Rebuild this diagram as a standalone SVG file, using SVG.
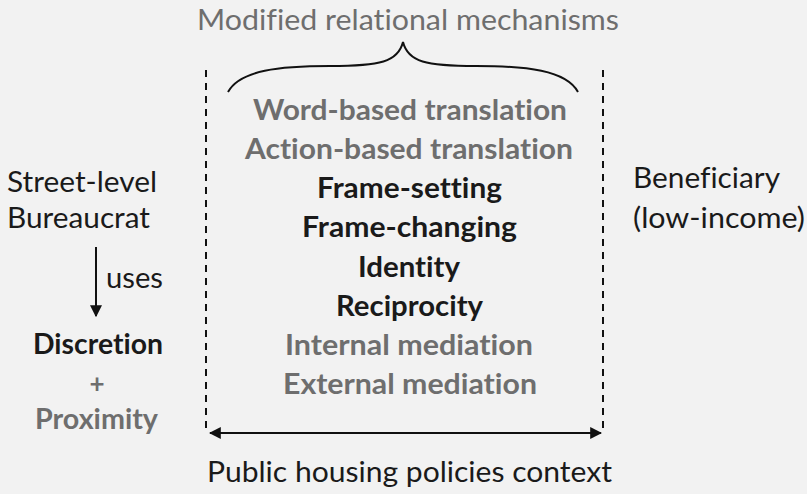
<svg xmlns="http://www.w3.org/2000/svg" width="807" height="494" viewBox="0 0 807 494">
  <style>
    text { font-family: Lato, "Open Sans", sans-serif; font-size: 29px; font-variant-ligatures: none; }
    .reg { fill: #1a1a1a; }
    .grey { fill: #6e6e6e; }
    .b { font-weight: bold; }
    .mid { text-anchor: middle; }
    .dash { stroke: #111; stroke-width: 2; stroke-dasharray: 7 6; fill: none; }
    .line { stroke: #111; stroke-width: 2; fill: none; }
  </style>
  <defs>
    <marker id="arrowS" viewBox="0 0 10 10" refX="9" refY="5" markerWidth="12" markerHeight="12" orient="auto-start-reverse" markerUnits="userSpaceOnUse">
      <path d="M0,0 L10,5 L0,10 z" fill="#111"/>
    </marker>
  </defs>
  <rect width="807" height="494" fill="#f2f2f2"/>

  <g id="title">
    <text class="grey mid" x="408" y="30" textLength="422" lengthAdjust="spacingAndGlyphs">Modified relational mechanisms</text>
  </g>

  <g id="connectors">
    <!-- dashed frame sides -->
    <path class="dash" d="M206,70 V432"/>
    <path class="dash" d="M603,70 V432"/>
    <!-- curly brace over the mechanisms -->
    <path class="line" d="M228,92 C240,70 280,66 330,66 C380,66 398,62 403,42 C408,62 426,66 476,66 C526,66 566,70 578,92"/>
    <!-- context span -->
    <path class="line" d="M210,433 H601" marker-start="url(#arrowS)" marker-end="url(#arrowS)"/>
    <!-- uses arrow -->
    <path class="line" d="M96,247 V316" marker-end="url(#arrowS)"/>
  </g>

  <g id="mechanisms">
    <text class="grey b mid" x="410" y="120" textLength="314" lengthAdjust="spacingAndGlyphs">Word-based translation</text>
    <text class="grey b mid" x="409" y="159" textLength="328" lengthAdjust="spacingAndGlyphs">Action-based translation</text>
    <text class="reg b mid" x="409.5" y="198" textLength="185" lengthAdjust="spacingAndGlyphs">Frame-setting</text>
    <text class="reg b mid" x="409.5" y="237" textLength="215" lengthAdjust="spacingAndGlyphs">Frame-changing</text>
    <text class="reg b mid" x="409" y="277" textLength="102" lengthAdjust="spacingAndGlyphs">Identity</text>
    <text class="reg b mid" x="409.5" y="316" textLength="147" lengthAdjust="spacingAndGlyphs">Reciprocity</text>
    <text class="grey b mid" x="409" y="355" textLength="248" lengthAdjust="spacingAndGlyphs">Internal mediation</text>
    <text class="grey b mid" x="410" y="394" textLength="254" lengthAdjust="spacingAndGlyphs">External mediation</text>
  </g>

  <g id="bureaucrat">
    <text class="reg" x="7" y="192" textLength="150" lengthAdjust="spacingAndGlyphs">Street-level</text>
    <text class="reg" x="7" y="228" textLength="143" lengthAdjust="spacingAndGlyphs">Bureaucrat</text>
  </g>
  <g id="uses-label">
    <text class="reg" x="106" y="288" textLength="57" lengthAdjust="spacingAndGlyphs">uses</text>
  </g>
  <g id="tools">
    <text class="reg b" x="33" y="354" textLength="130" lengthAdjust="spacingAndGlyphs">Discretion</text>
    <text class="grey b mid" x="97" y="393" style="font-size:26px">+</text>
    <text class="grey b" x="35" y="429" textLength="123" lengthAdjust="spacingAndGlyphs">Proximity</text>
  </g>

  <g id="beneficiary">
    <text class="reg" x="633" y="188" textLength="147" lengthAdjust="spacingAndGlyphs">Beneficiary</text>
    <text class="reg" x="633" y="228" textLength="172" lengthAdjust="spacingAndGlyphs">(low-income)</text>
  </g>

  <g id="context">
    <text class="reg" x="207" y="482" textLength="405" lengthAdjust="spacingAndGlyphs">Public housing policies context</text>
  </g>
</svg>
